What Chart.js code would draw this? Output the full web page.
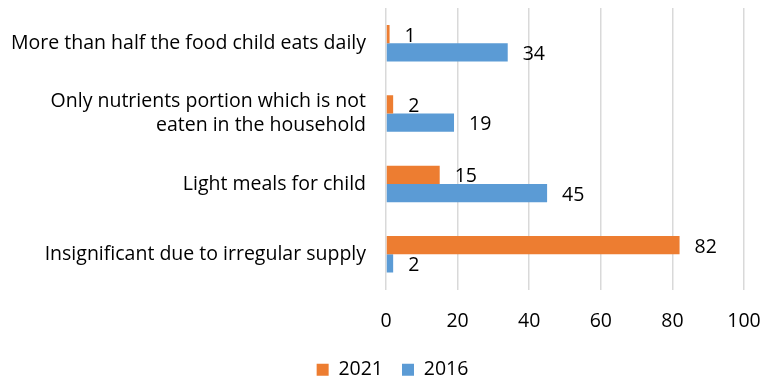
<!DOCTYPE html>
<html>
<head>
<meta charset="utf-8">
<script src="https://cdn.jsdelivr.net/npm/chart.js@4"></script>
<style>
html,body{margin:0;padding:0;background:#fff;}
#wrap{width:763px;height:380px;position:relative;}
</style>
</head>
<body>
<div id="wrap"><canvas id="c"></canvas></div>
<script>
const categories = [
  "More than half the food child eats daily",
  ["Only nutrients portion which is not", "eaten in the household"],
  "Light meals for child",
  "Insignificant due to irregular supply"
];
const seriesNames = ["2021", "2016"];
const values2021 = [1, 2, 15, 82];
const values2016 = [34, 19, 45, 2];
const xTicks = [0, 20, 40, 60, 80, 100];

const FONT = "'Open Sans', sans-serif";
const FS = 19.5;

const labelPlugin = {
  id: 'valueLabels',
  afterDatasetsDraw(chart) {
    const ctx = chart.ctx;
    ctx.save();
    ctx.font = FS + "px " + FONT;
    ctx.fillStyle = "#000";
    ctx.textAlign = "left";
    ctx.textBaseline = "middle";
    chart.data.datasets.forEach((ds, i) => {
      const meta = chart.getDatasetMeta(i);
      meta.data.forEach((el, j) => {
        ctx.fillText(String(ds.data[j]), el.x + 15, el.y + 2);
      });
    });
    ctx.restore();
  }
};

const legendShift = {
  id: 'legendShift',
  afterLayout(chart) {
    if (chart.legend) { chart.legend.left += 20.5; chart.legend.right += 20.5; }
  }
};

new Chart(document.getElementById('c'), {
  type: 'bar',
  data: {
    labels: categories,
    datasets: [
      { label: seriesNames[0], data: values2021, backgroundColor: '#ED7D31', borderWidth: 0,
        categoryPercentage: 0.52, barPercentage: 1.0 },
      { label: seriesNames[1], data: values2016, backgroundColor: '#5B9BD5', borderWidth: 0,
        categoryPercentage: 0.52, barPercentage: 1.0 }
    ]
  },
  options: {
    indexAxis: 'y',
    responsive: true,
    maintainAspectRatio: false,
    animation: false,
    layout: { padding: { top: 8, right: 19, left: 0, bottom: -9.5 } },
    scales: {
      x: {
        min: 0, max: 100,
        afterBuildTicks(axis) { axis.ticks = xTicks.map(v => ({ value: v })); },
        afterFit(scale) { scale.paddingLeft = 0; scale.paddingRight = 0; scale.height = 51.5; },
        grid: { color: '#d9d9d9', lineWidth: 1.5, drawTicks: false },
        border: { display: false },
        ticks: { color: '#000', font: { family: FONT, size: FS }, padding: 20 }
      },
      y: {
        afterFit(scale) { scale.paddingTop = 0; scale.paddingBottom = 0; scale.width = 386; },
        grid: { display: false, drawTicks: false },
        border: { display: false },
        ticks: { color: '#000', font: { family: FONT, size: FS }, padding: 20 }
      }
    },
    plugins: {
      legend: {
        position: 'bottom',
        labels: { color: '#000', font: { family: FONT, size: FS }, boxWidth: 12, boxHeight: 12, padding: 19 }
      },
      tooltip: { enabled: false }
    }
  },
  plugins: [labelPlugin, legendShift]
});
</script>
</body>
</html>
